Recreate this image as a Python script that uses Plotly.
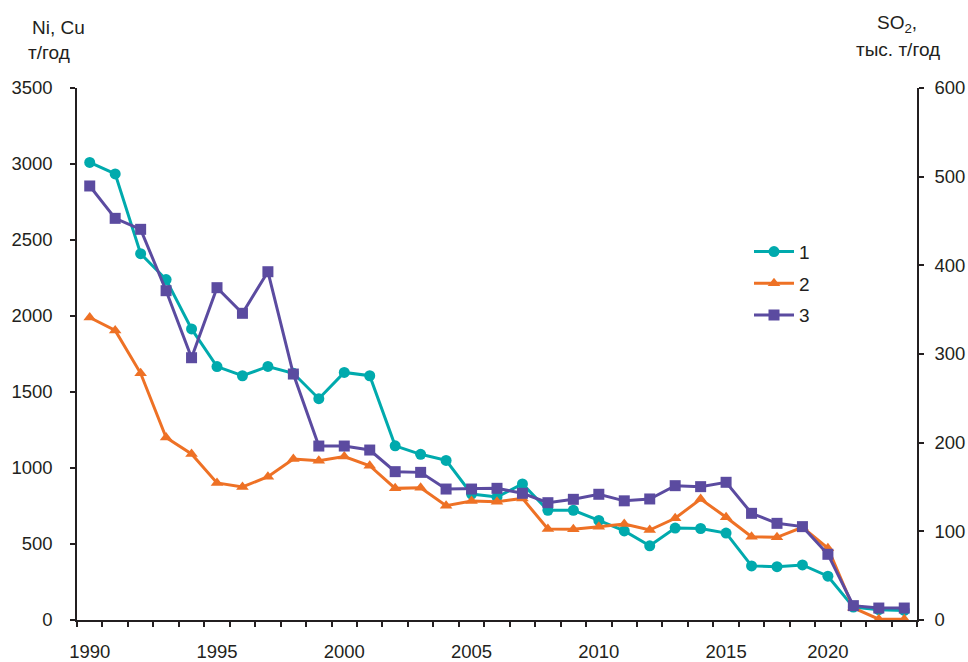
import plotly.graph_objects as go

years = [str(y) for y in range(1990, 2016)] + ["2016", "2017", "2018", "2020", "2021", "2022", "2023"]
label_years = ["1990", "1995", "2000", "2005", "2010", "2015", "2020"]

# Series 1 (Ni, t/yr) - left axis
s1 = [3010, 2935, 2410, 2240, 1915, 1667, 1607, 1668, 1623, 1456, 1629, 1607, 1146, 1090,
      1050, 829, 809, 895, 722, 722, 655, 586, 488, 605, 602, 572, 356, 351, 362, 288, 85, 68, 63]
# Series 2 (Cu, t/yr) - left axis
s2 = [1990, 1905, 1623, 1200, 1092, 902, 875, 943, 1059, 1048, 1075, 1015, 866, 870,
      752, 783, 778, 800, 599, 597, 614, 632, 592, 669, 796, 676, 548, 544, 610, 472, 80, 5, 5]
# Series 3 (SO2, thousand t/yr) - right axis
s3 = [489.5, 453, 440.6, 371.4, 295.8, 374.8, 345.9, 392.8, 277.4, 196.2, 196.2, 191.7, 167.3, 166.5,
      147.7, 147.7, 148.5, 142.9, 132.3, 136.1, 141.8, 134.4, 136.5, 151.5, 150.4, 155.3,
      120.3, 109, 105.3, 74.1, 16.2, 13.5, 13.5]

c1 = "rgb(0,170,173)"
c2 = "rgb(238,113,37)"
c3 = "rgb(91,75,160)"
txt = "#231f20"
font_family = "Liberation Sans, Arial, sans-serif"
fs = 19
tfs = 18.5

fig = go.Figure()
fig.add_trace(go.Scatter(x=years, y=s1, name="1", mode="lines+markers", legendgroup="g1",
                         line=dict(color=c1, width=3), marker=dict(symbol="circle", size=11, color=c1)))
fig.add_trace(go.Scatter(x=years, y=s2, name="2", mode="lines+markers", legendgroup="g2",
                         line=dict(color=c2, width=3), marker=dict(symbol="triangle-up", size=11, color=c2)))
fig.add_trace(go.Scatter(x=years, y=s3, name="3", mode="lines+markers", yaxis="y2", legendgroup="g3",
                         line=dict(color=c3, width=3), marker=dict(symbol="square", size=11, color=c3)))

ticktext = [y if y in label_years else "" for y in years]

fig.update_layout(
    width=968, height=662,
    margin=dict(l=77, r=51, t=88, b=42),
    paper_bgcolor="white", plot_bgcolor="white",
    font=dict(family=font_family, size=fs, color=txt),
    showlegend=True,
    legend=dict(x=0.80, y=0.728, xanchor="left", yanchor="top",
                font=dict(size=fs, color=txt), bgcolor="rgba(0,0,0,0)",
                tracegroupgap=4, itemwidth=40),
    xaxis=dict(type="category", categoryorder="array", categoryarray=years,
               tickvals=years, ticktext=ticktext, tickson="boundaries",
               ticks="outside", ticklen=5, tickwidth=1.5, tickcolor=txt,
               tickfont=dict(size=tfs),
               showline=True, linecolor=txt, linewidth=1.5, showgrid=False,
               zeroline=False, range=[-0.5, len(years) - 0.5], automargin=False,
               ticklabelstandoff=14, tickangle=0),
    yaxis=dict(range=[0, 3500], dtick=500, tick0=0, ticks="outside", ticklen=5,
               tickfont=dict(size=tfs),
               tickwidth=1.5, tickcolor=txt, showline=True, linecolor=txt, linewidth=1.5,
               showgrid=False, zeroline=False, ticklabelstandoff=14, automargin=False),
    yaxis2=dict(range=[0, 600], dtick=100, tick0=0, overlaying="y", side="right",
                ticks="outside", ticklen=5, tickwidth=1.5, tickcolor=txt,
                tickfont=dict(size=tfs),
                showline=True, linecolor=txt, linewidth=1.5, showgrid=False,
                zeroline=False, ticklabelstandoff=7, automargin=False),
    annotations=[
        dict(text="Ni, Cu", xref="paper", yref="paper", x=(58 - 77) / 840, y=(620 - 27) / 532,
             showarrow=False, xanchor="center", yanchor="middle", font=dict(size=fs, color=txt)),
        dict(text="т/год", xref="paper", yref="paper", x=(49 - 77) / 840, y=(620 - 53) / 532,
             showarrow=False, xanchor="center", yanchor="middle", font=dict(size=fs, color=txt)),
        dict(text="SO<sub>2</sub>,", xref="paper", yref="paper", x=(897 - 77) / 840, y=(620 - 24) / 532,
             showarrow=False, xanchor="center", yanchor="middle", font=dict(size=fs, color=txt)),
        dict(text="тыс. т/год", xref="paper", yref="paper", x=(898 - 77) / 840, y=(620 - 49) / 532,
             showarrow=False, xanchor="center", yanchor="middle", font=dict(size=fs, color=txt)),
    ],
)

fig.write_html("out.html", config={"displayModeBar": False},
               post_script="document.body.style.margin='0';document.body.style.overflow='hidden';")
